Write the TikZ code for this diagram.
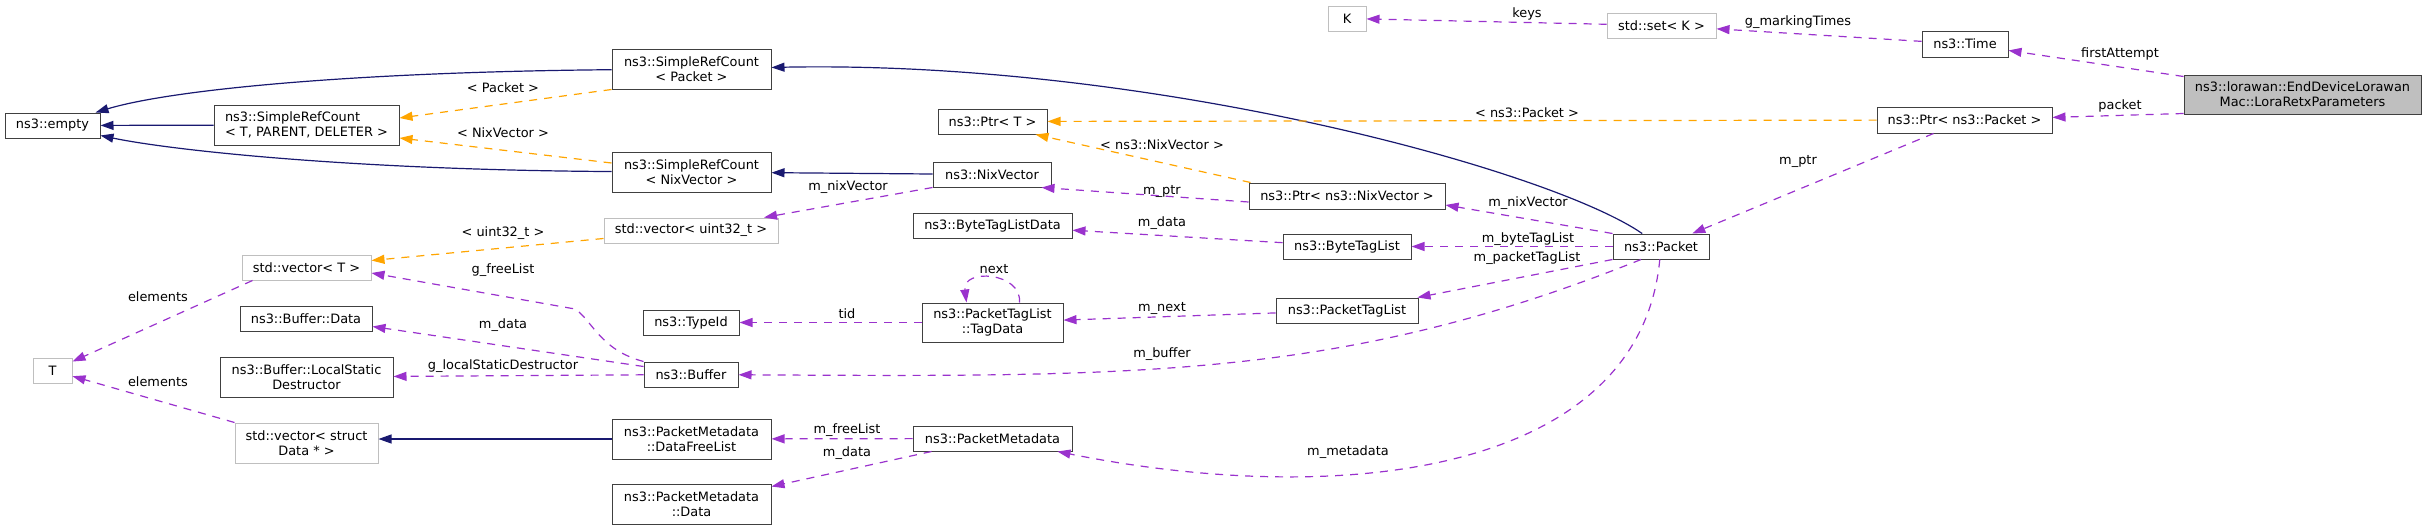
\documentclass[tikz,border=0pt]{standalone}
\usepackage{fontspec}
\setmainfont{DejaVu Sans}
\usetikzlibrary{arrows.meta,calc}
\definecolor{inhblue}{HTML}{191970}
\definecolor{instorange}{HTML}{FFA500}
\definecolor{memb}{HTML}{9A32CD}
\definecolor{docgray}{HTML}{404040}
\definecolor{extgray}{HTML}{BFBFBF}
\newcommand{\dxfont}{\fontsize{12.9}{15}\selectfont}
\tikzset{
  cls/.style={draw=docgray, line width=1pt, fill=white, inner sep=0pt,
    align=center, font=\dxfont},
  ext/.style={cls, draw=extgray},
  root/.style={cls, fill=extgray},
  sz/.style 2 args={minimum width=#1pt, minimum height=#2pt},
  dxhead/.style={-{Triangle[length=13pt,width=9pt]}, line width=1.2pt},
  inherit/.style={dxhead, draw=inhblue},
  inst/.style={dxhead, draw=instorange, dash pattern=on 8pt off 7pt},
  member/.style={dxhead, draw=memb, dash pattern=on 8pt off 7pt},
  lbl/.style={font=\dxfont, inner sep=0pt},
}

\begin{document}
\begin{tikzpicture}[x=1pt, y=-1pt]
  \useasboundingbox (0,0) rectangle (2427,530);
  % classes, column by column
  \node[cls, sz={95}{25}] (empty) at (52.5,125.5) {ns3::empty};
  \node[ext, sz={39}{25}] (T) at (52.5,370.5) {T};
  \node[cls, sz={185}{40}, align=left] (srcT) at (306.5,125) {ns3::SimpleRefCount\\< T, PARENT, DELETER >};
  \node[ext, sz={129}{25}] (vecT) at (306.5,267.5) {std::vector< T >};
  \node[cls, sz={132}{25}] (bufData) at (306,318.5) {ns3::Buffer::Data};
  \node[cls, sz={173}{40}] (lsd) at (306.5,377) {ns3::Buffer::LocalStatic\\Destructor};
  \node[ext, sz={143}{40}] (vecData) at (306.5,443) {std::vector< struct\\Data * >};
  \node[cls, sz={159}{40}] (srcPkt) at (691.5,69) {ns3::SimpleRefCount\\< Packet >};
  \node[cls, sz={159}{40}] (srcNix) at (691.5,172) {ns3::SimpleRefCount\\< NixVector >};
  \node[ext, sz={174}{25}] (vecU32) at (691,230.5) {std::vector< uint32\_t >};
  \node[cls, sz={96}{25}] (typeId) at (691,322.5) {ns3::TypeId};
  \node[cls, sz={94}{25}] (buffer) at (691,374.5) {ns3::Buffer};
  \node[cls, sz={159}{40}] (dfl) at (691.5,439) {ns3::PacketMetadata\\::DataFreeList};
  \node[cls, sz={159}{40}] (pmData) at (691.5,504) {ns3::PacketMetadata\\::Data};
  \node[cls, sz={109}{25}] (ptrT) at (992.5,121.5) {ns3::Ptr< T >};
  \node[cls, sz={118}{25}] (nix) at (992,174.5) {ns3::NixVector};
  \node[cls, sz={159}{25}] (btlData) at (992.5,225.5) {ns3::ByteTagListData};
  \node[cls, sz={141}{39}] (tagData) at (992.5,322.5) {ns3::PacketTagList\\::TagData};
  \node[cls, sz={159}{25}] (pmeta) at (992.5,438.5) {ns3::PacketMetadata};
  \node[ext, sz={38}{25}] (K) at (1347,18.5) {K};
  \node[cls, sz={196}{26}] (ptrNix) at (1347,196) {ns3::Ptr< ns3::NixVector >};
  \node[cls, sz={128}{25}] (btl) at (1347,246.5) {ns3::ByteTagList};
  \node[cls, sz={142}{25}] (ptl) at (1347,310.5) {ns3::PacketTagList};
  \node[ext, sz={109}{25}] (setK) at (1661.5,25.5) {std::set< K >};
  \node[cls, sz={96}{25}] (packet) at (1661,246.5) {ns3::Packet};
  \node[cls, sz={86}{26}] (time) at (1965,44) {ns3::Time};
  \node[cls, sz={175}{26}] (ptrPkt) at (1964.5,120) {ns3::Ptr< ns3::Packet >};
  \node[root, sz={237}{39}] (root) at (2302.5,94.5) {ns3::lorawan::EndDeviceLorawan\\Mac::LoraRetxParameters};

  % inheritance
  \draw[inherit] (srcT) -- (empty);
  \draw[inherit] (srcPkt) .. controls (350,72) and (170,90) .. (empty);
  \draw[inherit] (srcNix) .. controls (350,170) and (170,150) .. (empty);
  \draw[inherit] (nix) -- (srcNix);
  \draw[inherit] (packet) .. controls (1550,170) and (1150,60) .. (srcPkt);
  \draw[inherit] (dfl.west) -- (dfl.west -| vecData.east);

  % template instances
  \draw[inst] (srcPkt.south west) -- ($(srcT.east)+(0,-7)$);
  \draw[inst] ($(srcNix.west)+(0,-9)$) -- ($(srcT.east)+(0,13)$);
  \draw[inst] ($(vecU32.west)+(0,8)$) -- ($(vecT.east)+(0,-7)$);
  \draw[inst] ($(ptrNix.north west)+(2,0)$) -- ($(ptrT.south east)+(-12,0)$);
  \draw[inst] (ptrPkt) -- (ptrT);

  % members
  \foreach \a/\b in {packet/btl, tagData/typeId, pmeta/dfl, setK/K, time/setK, buffer/lsd, ptl/tagData, btl/btlData}
    \draw[member] (\a) -- (\b);
  \draw[member] (nix.south west) -- (vecU32);
  \draw[member] ($(ptrNix.west)+(0,6)$) -- ($(nix.south east)+(-10,0)$);
  \draw[member] (packet.north west) -- ($(ptrNix.east)+(0,9)$);
  \draw[member] (packet.south west) -- ($(ptl.north east)+(-1,0)$);
  \draw[member] ($(tagData.north)+(27,0)$) .. controls (1022,272) and (962,268) .. ($(tagData.north)+(-26,0)$);
  \draw[member] ($(packet.south)+(-20,0)$) .. controls (1343,379) and (1138,377) .. (buffer);
  \draw[member] (packet) .. controls (1640,470) and (1350,510) .. (pmeta);
  \draw[member] (buffer.north west) .. controls (600,350) and (592,320) .. (575,309) -- ($(vecT.east)+(0,5.5)$);
  \draw[member] ($(buffer.west)+(0,-8)$) -- ($(bufData.east)+(0,8)$);
  \draw[member] ($(vecT.south west)+(11,0)$) -- (T);
  \draw[member] (vecData.north west) -- (T);
  \draw[member] ($(pmeta.south west)+(19,0)$) -- (pmData);
  \draw[member] ($(root.north west)+(0,2)$) -- (time);
  \draw[member] ($(root.south west)+(0,-1)$) -- (ptrPkt);
  \draw[member] ($(ptrPkt.south)+(-31,0)$) -- (packet);

  % edge labels
  \node[lbl] (lbPacket) at (503,88) {< Packet >};
  \node[lbl] (lbNix) at (503,133) {< NixVector >};
  \node[lbl] (lbU32) at (503,233) {< uint32\_t >};
  \node[lbl] (lbFree) at (503,270) {g\_freeList};
  \node[lbl] (lbElemA) at (158,297) {elements};
  \node[lbl] (lbBufData) at (503,325) {m\_data};
  \node[lbl] (lbLsd) at (503,366) {g\_localStaticDestructor};
  \node[lbl] (lbElemB) at (158,382) {elements};
  \node[lbl] (lbNixVec) at (848,187) {m\_nixVector};
  \node[lbl] (lbTid) at (847,314) {tid};
  \node[lbl] (lbNext) at (994,269) {next};
  \node[lbl] (lbFreeList) at (847,430) {m\_freeList};
  \node[lbl] (lbPmData) at (847,453) {m\_data};
  \node[lbl] (lbPtrNix) at (1162,145) {< ns3::NixVector >};
  \node[lbl] (lbPtrA) at (1162,191) {m\_ptr};
  \node[lbl] (lbBtlData) at (1162,223) {m\_data};
  \node[lbl] (lbMNext) at (1162,308) {m\_next};
  \node[lbl] (lbBuffer) at (1162,354) {m\_buffer};
  \node[lbl] (lbMeta) at (1348,452) {m\_metadata};
  \node[lbl] (lbKeys) at (1527,14) {keys};
  \node[lbl] (lbPtrPkt) at (1527,113) {< ns3::Packet >};
  \node[lbl] (lbPktNix) at (1528,203) {m\_nixVector};
  \node[lbl] (lbBtl) at (1528,239) {m\_byteTagList};
  \node[lbl] (lbPtl) at (1527,258) {m\_packetTagList};
  \node[lbl] (lbMarking) at (1798,22) {g\_markingTimes};
  \node[lbl] (lbPtrB) at (1798,161) {m\_ptr};
  \node[lbl] (lbFirst) at (2120,54) {firstAttempt};
  \node[lbl] (lbPkt) at (2120,106) {packet};
\end{tikzpicture}
\end{document}
